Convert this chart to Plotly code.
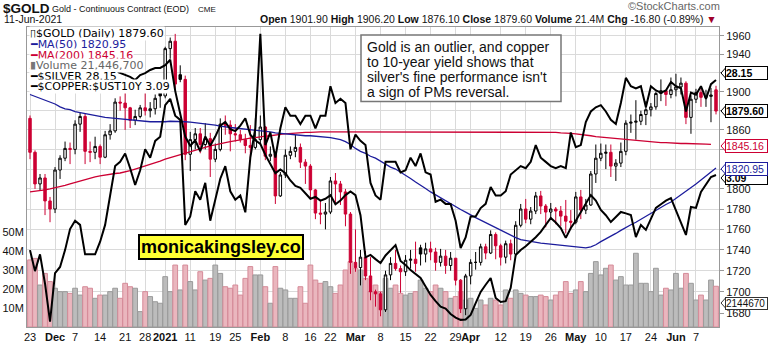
import pandas as pd
import plotly.graph_objects as go

# ---------------- data ----------------
holidays = ["2020-11-26", "2020-12-25", "2021-01-01", "2021-01-18",
            "2021-02-15", "2021-04-02", "2021-05-31"]
dates = [d for d in pd.bdate_range("2020-11-23", "2021-06-11")
         if d.strftime("%Y-%m-%d") not in holidays]

prev_close = 1872.0
gold_open = [1872, 1837, 1805, 1811, 1788, 1780, 1819, 1831, 1841, 1840, 1866, 1874, 1838, 1837, 1843, 1832, 1855, 1859, 1889, 1888,
             1883, 1870, 1874, 1883, 1880, 1882, 1899, 1895.5, 1946, 1954, 1918, 1913, 1835, 1850, 1856, 1845, 1851, 1830, 1840, 1866,
             1865, 1856, 1855, 1850, 1844, 1842, 1850, 1863, 1833, 1835, 1793, 1814, 1834, 1838, 1842, 1827, 1823, 1799, 1776, 1775,
             1777, 1808, 1805, 1797, 1775, 1728, 1723, 1733, 1715, 1700, 1698, 1683, 1716, 1727, 1722, 1719, 1730, 1731, 1742, 1736,
             1741, 1738, 1728, 1734, 1725, 1732, 1711, 1684, 1715, 1728, 1728, 1743, 1737, 1755, 1744, 1733, 1746, 1736, 1764, 1780,
             1770, 1778, 1793, 1783, 1777, 1780, 1778, 1773, 1768, 1767, 1792, 1779, 1784, 1815, 1831, 1836, 1837, 1823, 1826, 1838,
             1867, 1868, 1869, 1876, 1881, 1884, 1898, 1901, 1897, 1902, 1905, 1909, 1873, 1892, 1899, 1894, 1895, 1901.9]
gold_high = [1875, 1839, 1815, 1815, 1792, 1822, 1834, 1848, 1847, 1870, 1878, 1877, 1848, 1853, 1845, 1859, 1866, 1893, 1895, 1912,
             1884, 1881, 1886, 1900, 1889, 1897, 1902, 1948, 1958, 1962, 1928, 1917, 1858, 1862, 1862, 1867, 1857, 1846, 1872, 1875,
             1870, 1866, 1860, 1856, 1865, 1872, 1875, 1864, 1843, 1838, 1817, 1840, 1843, 1855, 1846, 1830, 1825, 1800, 1788, 1786,
             1812, 1816, 1808, 1800, 1777, 1760, 1740, 1739, 1733, 1702, 1700, 1720, 1733, 1740, 1725, 1735, 1740, 1748, 1745, 1747,
             1748, 1742, 1741, 1740, 1738, 1732, 1712, 1717, 1731, 1738, 1746, 1746, 1759, 1757, 1746, 1749, 1750, 1768, 1785, 1790,
             1782, 1797, 1798, 1785, 1786, 1782, 1783, 1789, 1779, 1797, 1799, 1790, 1818, 1845, 1846, 1845, 1845, 1830, 1847, 1870,
             1876, 1891, 1880, 1890, 1888, 1900, 1913, 1902, 1915, 1919, 1915, 1911, 1896, 1903, 1904, 1902, 1904, 1906.2]
gold_low = [1830, 1800, 1798, 1774, 1767, 1776, 1810, 1828, 1825, 1835, 1858, 1825, 1827, 1830, 1825, 1831, 1850, 1857, 1880, 1860,
            1862, 1865, 1872, 1875, 1873, 1876, 1883, 1893, 1935, 1902, 1910, 1829, 1818, 1840, 1836, 1840, 1812, 1827, 1838, 1855,
            1838, 1848, 1847, 1836, 1831, 1840, 1845, 1829, 1828, 1785, 1792, 1811, 1830, 1832, 1821, 1805, 1790, 1770, 1765, 1760,
            1775, 1784, 1784, 1763, 1717, 1719, 1706, 1711, 1692, 1686, 1677, 1681, 1711, 1720, 1699, 1715, 1722, 1719, 1725, 1728,
            1730, 1720, 1724, 1717, 1720, 1706, 1680, 1678, 1707, 1721, 1725, 1731, 1736, 1731, 1725, 1727, 1730, 1734, 1762, 1766,
            1765, 1775, 1775, 1762, 1771, 1765, 1763, 1756, 1760, 1765, 1770, 1775, 1783, 1806, 1828, 1820, 1812, 1808, 1822, 1834,
            1857, 1850, 1865, 1865, 1874, 1881, 1890, 1885, 1893, 1895, 1897, 1866, 1856, 1888, 1884, 1884, 1868, 1876.1]
gold_close = [1837, 1805, 1811, 1788, 1780, 1819, 1831, 1841, 1840, 1866, 1874, 1838, 1837, 1843, 1832, 1855, 1859, 1889, 1888, 1883,
              1870, 1874, 1883, 1880, 1882, 1893, 1895.5, 1946, 1954, 1908, 1913, 1835, 1850, 1856, 1845, 1851, 1830, 1840, 1866, 1865,
              1856, 1855, 1850, 1844, 1842, 1850, 1863, 1833, 1835, 1793, 1814, 1834, 1838, 1842, 1827, 1823, 1799, 1776, 1775, 1777,
              1808, 1805, 1797, 1775, 1728, 1723, 1733, 1715, 1700, 1698, 1683, 1716, 1727, 1722, 1719, 1730, 1731, 1727, 1736, 1741,
              1738, 1728, 1734, 1725, 1732, 1711, 1684, 1715, 1728, 1728, 1743, 1737, 1755, 1744, 1733, 1746, 1736, 1764, 1780, 1770,
              1778, 1793, 1783, 1777, 1780, 1778, 1773, 1768, 1767, 1792, 1779, 1784, 1815, 1831, 1836, 1837, 1823, 1826, 1838, 1867,
              1868, 1869, 1876, 1881, 1884, 1898, 1901, 1897, 1902, 1905, 1909, 1873, 1892, 1899, 1894, 1895, 1896.4, 1879.6]

# volume in millions
volume_m = [35.3, 36.1, 22.1, 28.2, 23.9, 20.4, 18.6, 18.6, 17.7, 20.4, 16.8, 21.2, 20.4, 15.1, 16.8, 16.8, 18.6, 20.4, 15.1, 23.0,
            21.2, 20.4, 8.1, 18.6, 16.0, 13.3, 12.5, 26.5, 18.6, 32.6, 19.5, 32.6, 23.9, 19.5, 29.1, 24.7, 25.6, 32.6, 28.2, 21.2,
            20.4, 22.1, 16.8, 25.6, 31.8, 27.4, 27.4, 21.2, 12.5, 31.8, 20.4, 19.5, 15.1, 15.1, 21.2, 12.5, 32.6, 24.7, 23.0, 23.9,
            21.2, 17.7, 22.1, 30.0, 34.4, 30.9, 30.0, 25.6, 18.6,
            22.1, 18.6, 25.6, 20.4, 22.1, 17.7, 16.8, 17.7, 18.6, 24.7, 20.4, 18.6, 22.1, 20.4, 18.6, 15.1, 16.0, 18.6, 14.2, 15.1,
            9.8, 14.2, 11.6, 15.1, 14.2, 11.6, 19.5, 15.1, 19.5, 17.7, 16.8, 16.0, 16.0, 16.8, 16.0, 14.2, 16.8, 18.6, 23.9, 17.7,
            19.5, 23.9, 18.6, 28.2, 34.4, 27.4, 30.9, 32.6, 24.7, 26.5, 22.1, 22.1, 38.8, 23.0, 23.0, 18.6, 30.9, 16.8, 20.4, 19.5,
            28.2, 20.4, 28.2, 23.0, 14.2, 16.8, 14.2, 24.7, 21.4467]

ma50 = [1897, 1895, 1893, 1891, 1889, 1887, 1884, 1882, 1881, 1879, 1878, 1877, 1875.5, 1875, 1874, 1873, 1872.5, 1872, 1871, 1870.5,
        1870, 1869.5, 1869, 1869, 1868.5, 1868.5, 1868.3, 1868.5, 1869, 1869, 1869, 1868.5, 1868, 1867.5, 1867, 1866, 1865.5, 1865, 1864, 1863,
        1862.5, 1862, 1861.5, 1861, 1860, 1859.5, 1859, 1858.5, 1858, 1857, 1856.5, 1856, 1855, 1855, 1854.5, 1854, 1854, 1853.5, 1853, 1853,
        1852, 1851, 1850, 1848, 1845, 1841, 1838, 1836, 1833, 1831, 1828, 1825, 1822, 1820, 1817, 1814, 1810.5, 1807, 1804, 1800.5,
        1797, 1794, 1791, 1788, 1785, 1782, 1779.5, 1777, 1774, 1771.5, 1769, 1766.5, 1764, 1762, 1759.5, 1757, 1754.5, 1752, 1750, 1749,
        1748, 1747, 1746.5, 1746, 1745.5, 1745, 1744, 1743.5, 1743, 1742.5, 1742, 1742, 1743, 1745, 1748, 1750.5, 1753, 1756, 1759, 1762,
        1764.5, 1767, 1770, 1773, 1776, 1779, 1782, 1784.5, 1787, 1790.5, 1794, 1797.5, 1801, 1805, 1809, 1813, 1817, 1820.95]
ma200 = [1797, 1797.5, 1798, 1799, 1800, 1801, 1802, 1803.5, 1805, 1806.5, 1808, 1809.5, 1811, 1812, 1813, 1814, 1814.5, 1815.5, 1816, 1817,
         1818.5, 1820, 1821.5, 1823, 1825, 1826.5, 1828, 1830, 1831.5, 1833, 1835, 1836.5, 1838, 1839.5, 1841, 1842, 1843.5, 1844.5, 1846, 1847,
         1848, 1849, 1850, 1850.5, 1851.5, 1852, 1853, 1853.5, 1854, 1855, 1855.5, 1856, 1856.5, 1857, 1857, 1857.5, 1857.5, 1858, 1858, 1858,
         1858, 1858, 1858, 1858, 1858, 1858, 1858, 1858, 1858, 1858, 1858, 1858, 1858, 1858, 1858, 1858, 1858, 1858, 1858, 1858,
         1858, 1858, 1858, 1858, 1858, 1858, 1857.5, 1857.5, 1857.5, 1857.5, 1857.5, 1857.5, 1857.5, 1857.5, 1857.5, 1857.5, 1857.5, 1857.5, 1857.5, 1857.5,
         1857.5, 1857.5, 1857.5, 1857.5, 1857.5, 1857.5, 1857, 1857, 1856.5, 1856, 1855.5, 1855, 1854, 1853, 1852.5, 1852, 1851.5, 1851, 1850.5, 1850,
         1849.5, 1849, 1848.5, 1848, 1847.5, 1847.5, 1847, 1847, 1846.5, 1846.5, 1846, 1846, 1846, 1845.5, 1845.5, 1845.3, 1845.16]

silver = [24.1, 23.6, 24.0, 23.3, 22.4, 23.55, 23.7, 24.1, 24.6, 24.8, 24.7, 24.0, 24.0, 24.0, 24.3, 24.7, 25.4, 26.1, 26.2, 26.4,
          26.05, 25.65, 26.0, 26.5, 26.3, 26.7, 26.8, 27.55, 27.7, 27.3, 27.2, 24.7, 24.9, 25.5, 25.3, 25.7, 24.8, 25.3, 25.8, 26.1,
          25.5, 25.3, 25.4, 25.0, 26.3, 27.0, 29.25, 26.6, 26.9, 26.3, 27.0, 27.5, 27.3, 27.3, 27.1, 27.3, 27.3, 27.0, 27.3, 27.3,
          28.0, 27.6, 27.7, 27.6, 26.5, 26.85, 26.7, 26.6, 25.7, 25.4, 25.3, 26.2, 26.2, 26.2, 25.95, 26.0, 26.3, 26.1, 26.4, 25.95,
          25.9, 25.25, 25.3, 25.2, 25.2, 24.8, 24.15, 24.4, 24.9, 24.9, 25.1, 25.2, 25.6, 25.4, 25.4, 25.5, 25.9, 26.0, 26.1, 26.05,
          26.2, 26.6, 26.3, 26.2, 26.1, 26.05, 26.1, 26.05, 26.9, 26.55, 26.6, 27.15, 27.4, 27.5, 27.55, 27.4, 27.2, 27.1, 27.6, 28.2,
          28.0, 27.95, 28.0, 27.5, 28.0, 27.9, 27.85, 27.9, 28.1, 28.0, 27.95, 27.4, 27.85, 27.8, 28.0, 27.7, 28.05, 28.15]
copper_ust10y = [3.67, 3.68, 3.68, 3.69, 3.70, 3.69, 3.68, 3.68, 3.67, 3.68, 3.69, 3.68, 3.67, 3.67, 3.68, 3.68, 3.67, 3.66, 3.65,
                 3.636, 3.626, 3.609, 3.636, 3.647, 3.664, 3.675, 3.675, 3.69, 3.72, 3.55, 3.42,
                 3.30, 3.25, 3.28, 3.22, 3.30, 3.25, 3.30, 3.36, 3.38, 3.34, 3.33, 3.36, 3.40, 3.31, 3.28, 3.26,
                 3.20, 3.15, 3.10, 3.12, 3.10, 3.06, 3.03, 3.02, 2.99, 2.96, 2.97, 2.95, 2.96, 2.98, 2.93, 2.95, 2.98, 3.00, 2.98, 2.87, 2.64,
                 2.653, 2.63, 2.609, 2.65, 2.68, 2.707, 2.62, 2.598, 2.57, 2.55, 2.527, 2.48,
                 2.434, 2.40, 2.37, 2.36, 2.33, 2.31, 2.298, 2.30, 2.325, 2.39, 2.451, 2.49, 2.527, 2.418, 2.396, 2.40, 2.473, 2.653, 2.68, 2.70,
                 2.724, 2.75, 2.779, 2.82, 2.855, 2.83, 2.80, 2.746, 2.80, 2.84, 2.888, 2.93, 2.98, 2.95, 2.899, 2.87, 2.833, 2.86, 2.888, 2.88,
                 2.871, 2.751, 2.817, 2.79, 2.85, 2.91, 2.93, 2.95, 2.964, 2.899, 2.83, 2.762, 2.915, 2.91, 2.997, 3.04, 3.079, 3.09]

tick_dates = ["2020-11-23", "2020-12-01", "2020-12-07", "2020-12-14", "2020-12-21", "2020-12-28", "2021-01-04",
              "2021-01-11", "2021-01-19", "2021-01-25", "2021-02-01", "2021-02-08", "2021-02-16", "2021-02-22",
              "2021-03-01", "2021-03-08", "2021-03-15", "2021-03-22", "2021-03-29", "2021-04-01", "2021-04-12",
              "2021-04-19", "2021-04-26", "2021-05-03", "2021-05-10", "2021-05-17", "2021-05-24", "2021-06-01",
              "2021-06-07"]
tick_text = ["23", "<b>Dec</b>", "7", "14", "21", "28", "<b>2021</b>", "11", "19", "25", "<b>Feb</b>", "8", "16", "22",
             "<b>Mar</b>", "8", "15", "22", "29", "<b>Apr</b>", "12", "19", "26", "<b>May</b>", "10", "17", "24",
             "<b>Jun</b>", "7"]
price_ticks = list(range(1680, 1961, 20))
# price levels whose tick text sits fully under a last-value tag
covered_ticks = [1820, 1880]
volume_ticks = [10, 20, 30, 40, 50]

# ---------------- geometry helpers ----------------
W, H = 770, 344
ML, MR, MT, MB = 27, 51, 27, 17
PW, PH = W - ML - MR, H - MT - MB


def xp(px):
    return (px - ML) / PW


def yp(py):
    return (H - MB - py) / PH


n = len(gold_close)
idx = list(range(n))
date_str = [d.strftime("%Y-%m-%d") for d in dates]
tick_pos = [date_str.index(t) for t in tick_dates]
prevs = [prev_close] + gold_close[:-1]
up_day = [c >= p for c, p in zip(gold_close, prevs)]

RED = "#cc0033"
NAVY = "#1c1c9c"
FONT = "Liberation Sans"

fig = go.Figure()

# volume bars (base axis)
fig.add_trace(go.Bar(
    x=idx, y=volume_m, yaxis="y",
    marker=dict(color=["#bcbcbc" if u else "#eab6be" for u in up_day],
                line=dict(color=["#9a9a9a" if u else "#d58a98" for u in up_day], width=1)),
    width=0.95, hoverinfo="skip"))

# moving averages
fig.add_trace(go.Scatter(x=idx, y=ma200, yaxis="y2", mode="lines",
                         line=dict(color=RED, width=1.3), hoverinfo="skip"))
fig.add_trace(go.Scatter(x=idx, y=ma50, yaxis="y2", mode="lines",
                         line=dict(color=NAVY, width=1.3), hoverinfo="skip"))

# candles: black when close >= previous close, red otherwise; hollow when close > open
for flag, col in ((True, "black"), (False, RED)):
    sel = [i for i in idx if up_day[i] == flag]
    fig.add_trace(go.Candlestick(
        x=sel,
        open=[gold_open[i] for i in sel], high=[gold_high[i] for i in sel],
        low=[gold_low[i] for i in sel], close=[gold_close[i] for i in sel],
        yaxis="y2",
        increasing=dict(line=dict(color=col, width=1), fillcolor="white"),
        decreasing=dict(line=dict(color=col, width=1), fillcolor=col),
        whiskerwidth=0, hoverinfo="skip"))

# overlays
fig.add_trace(go.Scatter(x=idx, y=silver, yaxis="y3", mode="lines",
                         line=dict(color="black", width=2), hoverinfo="skip"))
fig.add_trace(go.Scatter(x=idx, y=copper_ust10y, yaxis="y4", mode="lines",
                         line=dict(color="black", width=2), hoverinfo="skip"))

grid = "#dadada"
fig.update_layout(
    width=W, height=H, margin=dict(l=ML, r=MR, t=MT, b=MB, autoexpand=False),
    paper_bgcolor="white", plot_bgcolor="white", showlegend=False,
    font=dict(family=FONT, size=11, color="#222"),
    xaxis=dict(range=[-0.6, n - 0.4], tickvals=tick_pos, ticktext=tick_text, tickangle=0,
               showgrid=True, gridcolor=grid, gridwidth=1, zeroline=False, automargin=False,
               ticks="", tickfont=dict(size=11, color="#111"),
               rangeslider=dict(visible=False), showline=True, linecolor="#999",
               mirror=True),
    yaxis=dict(range=[0, PH / 1.9], tickvals=volume_ticks, automargin=False,
               ticktext=[f"{v}M" for v in volume_ticks], side="left",
               showgrid=False, zeroline=False, ticks="", tickfont=dict(size=11, color="#111"),
               showline=True, linecolor="#999"),
    yaxis2=dict(type="log", overlaying="y", side="right", automargin=False,
                range=[3.22194, 3.29436], tickvals=price_ticks,
                ticktext=["" if v in covered_ticks else str(v) for v in price_ticks],
                showgrid=True, gridcolor=grid, zeroline=False,
                ticks="outside", ticklen=4, tickcolor="#999",
                tickfont=dict(size=11, color="#111"), showline=True, linecolor="#999"),
    yaxis3=dict(overlaying="y", range=[22.27, 29.41], visible=False),
    yaxis4=dict(overlaying="y", range=[2.259, 3.899], visible=False),
)

ann = []
shapes = []


def add_text(text, x, y, size=11, color="#111", xanchor="left", bg=None, family=FONT, **kw):
    d = dict(text=text, x=xp(x), y=yp(y), xref="paper", yref="paper", xanchor=xanchor,
             yanchor="middle", showarrow=False, font=dict(size=size, color=color, family=family))
    if bg:
        d.update(bgcolor=bg, borderpad=0)
    d.update(kw)
    ann.append(d)


# header
add_text("<b>$GOLD</b>", 1, 9, size=13.5)
add_text("Gold - Continuous Contract (EOD)", 50, 9, size=9)
add_text("CME", 196, 9.5, size=8)
add_text("11-Jun-2021", 2, 19, size=10.5)
add_text("<b>Open</b> 1901.90 <b>High</b> 1906.20 <b>Low</b> 1876.10 <b>Close</b> 1879.60 "
         "<b>Volume</b> 21.4M <b>Chg</b> -16.80 (-0.89%) <span style='color:#a0002a'>▼</span>",
         719, 19, size=10.5, xanchor="right")
add_text("©StockCharts.com", 722, 6, size=11, color="#666", xanchor="right")

# legend block
LEG = "DejaVu Sans"
add_text("<b>▯</b>$GOLD (Daily) 1879.60", 29, 34, size=11, bg="white", family=LEG, color="#000")
add_text("<span style='color:%s'>━</span>MA(50) 1820.95" % NAVY, 29, 44.5, size=11, bg="white",
         family=LEG, color=NAVY)
add_text("<span style='color:%s'>━</span>MA(200) 1845.16" % RED, 29, 55, size=11, bg="white",
         family=LEG, color=RED)
add_text("<span style='color:#777'>▮</span>Volume 21,446,700", 29, 65.5, size=11, bg="white",
         family=LEG, color="#666")
add_text("━$SILVER 28.15", 29, 76, size=11, bg="white", family=LEG, color="#000")
add_text("━$COPPER:$UST10Y 3.09", 29, 86.5, size=11, bg="white", family=LEG, color="#000")

# commentary box
shapes.append(dict(type="rect", xref="paper", yref="paper", x0=xp(361), x1=xp(561),
                   y0=yp(35), y1=yp(101.5), fillcolor="white", line=dict(color="#777", width=1.5),
                   layer="above"))
for k, line in enumerate(["Gold is an outlier, and copper", "to 10-year yield shows that",
                          "silver's fine performance isn't", "a sign of PMs reversal."]):
    add_text(line, 365, 47 + 15 * k, size=14, color="#111")

ann.append(dict(text="<b>monicakingsley.co</b>", x=xp(221.5), y=yp(246.5), xref="paper", yref="paper",
                xanchor="center", yanchor="middle", showarrow=False, bgcolor="#ffff33",
                bordercolor="black", borderwidth=2, borderpad=1,
                font=dict(size=18, color="black", family=FONT)))


# last-value labels on the right, with a small pointer toward the axis
def rlabel(text, y, color, border, size=10.5):
    shapes.append(dict(type="path", xref="paper", yref="paper",
                       path=f"M {xp(721)},{yp(y)} L {xp(725.5)},{yp(y - 5)} L {xp(725.5)},{yp(y + 5)} Z",
                       fillcolor="white", line=dict(color=border, width=1), layer="above"))
    ann.append(dict(text=text, x=xp(724.5), y=yp(y), xref="paper", yref="paper",
                    xanchor="left", yanchor="middle", showarrow=False, bgcolor="white",
                    bordercolor=border, borderwidth=1, borderpad=0, width=41, align="left",
                    font=dict(size=size, color=color, family=FONT)))


rlabel("<b>28.15</b>", 73, "black", "black")
rlabel("<b>1879.60</b>", 111, "black", "black")
rlabel("1845.16", 146, RED, RED)
rlabel("<b>3.09</b>", 178, "black", "black")
rlabel("1820.95", 169, NAVY, NAVY)
rlabel("2144670", 303, "#111", "#333", size=10)

fig.update_layout(annotations=ann, shapes=shapes)
fig.write_html("out.html")
